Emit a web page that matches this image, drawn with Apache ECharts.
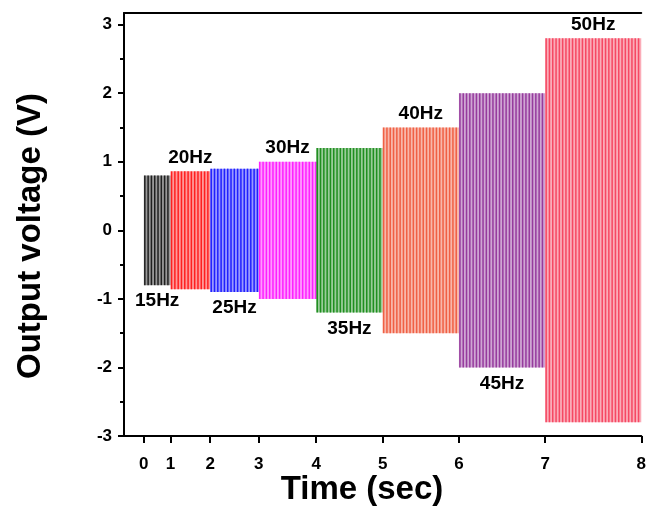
<!DOCTYPE html>
<html><head><meta charset="utf-8">
<script src="https://cdn.jsdelivr.net/npm/echarts@6/dist/echarts.min.js"></script>
<style>html,body{margin:0;padding:0;background:#fff}#c{width:649px;height:508px}</style>
</head><body><div id="c"></div>
<script>
// x-axis tick labels and their positions on the (non-uniform) time axis
const tickLabels = ['0','1','2','3','4','5','6','7','8'];
const tickValues = [0, 27, 67, 116, 174, 241, 318, 405, 502];
// one excitation frequency per time segment
const freqLabels = ['15Hz','20Hz','25Hz','30Hz','35Hz','40Hz','45Hz','50Hz'];
const amplitudes = [0.80, 0.86, 0.90, 1.00, 1.20, 1.50, 2.00, 2.80];
const colors = ['#000000','#ff0000','#0000ff','#ff00ff','#008000','#ee4a2a','#882090','#f5304e'];
const yTicks = [-3,-2,-1,0,1,2,3];
const yMinorTicks = [-2.5,-1.5,-0.5,0.5,1.5,2.5];

const FONT = '"Liberation Sans", Arial, sans-serif';
const segData = freqLabels.map((f,i)=>[tickValues[i], tickValues[i+1], amplitudes[i], i]);

function renderItem(params, api){
  const x0 = api.value(0), x1 = api.value(1), a = api.value(2), i = api.value(3);
  const p0 = api.coord([x0, a]), p1 = api.coord([x1, -a]);
  const col = colors[i];
  const children = [{type:'rect', shape:{x:p0[0], y:p0[1], width:p1[0]-p0[0], height:p1[1]-p0[1]},
    style:{fill:col, opacity:0.4}}];
  for (let x = p0[0] + 1; x < p1[0]; x += 3.3) {
    children.push({type:'line', shape:{x1:x, y1:p0[1], x2:x, y2:p1[1]},
      style:{stroke:col, lineWidth:1.5, opacity:0.8}});
  }
  const above = i % 2 === 1;
  children.push({type:'text', x:(p0[0]+p1[0])/2, y: above ? p0[1]-14 : p1[1]+16,
    style:{text:freqLabels[i], font:'bold 19px ' + FONT, fill:'#000',
      align:'center', verticalAlign:'middle', textAlign:'center', textVerticalAlign:'middle'}});
  return {type:'group', children};
}

const chart = echarts.init(document.getElementById('c'), null, {renderer:'canvas'});
const axisLine = {show:true, onZero:false, lineStyle:{color:'#000', width:2}};
chart.setOption({
  animation:false,
  grid:{left:124, right:3, top:13, bottom:72},
  xAxis:[{
    type:'value', position:'bottom', min:-20, max:502,
    axisLine, splitLine:{show:false},
    axisTick:{show:true, inside:false, length:7, lineStyle:{color:'#000', width:2}, customValues:tickValues},
    axisLabel:{show:true, customValues:tickValues, margin:20, color:'#000',
      fontWeight:'bold', fontSize:17, fontFamily:FONT,
      formatter:v => tickLabels[tickValues.indexOf(v)]}
  },{
    type:'value', position:'top', min:-20, max:502,
    axisLine, axisTick:{show:false}, axisLabel:{show:false}, splitLine:{show:false}
  }],
  yAxis:[{
    type:'value', position:'left', min:-3, max:3.17,
    axisLine, splitLine:{show:false},
    axisTick:{show:true, inside:false, length:6, lineStyle:{color:'#000', width:2}, customValues:yTicks},
    axisLabel:{show:true, customValues:yTicks, margin:12, color:'#000',
      fontWeight:'bold', fontSize:17, fontFamily:FONT}
  },{
    type:'value', position:'left', offset:0, min:-3, max:3.17,
    axisLine:{show:false, onZero:false}, splitLine:{show:false},
    axisTick:{show:true, inside:false, length:4, lineStyle:{color:'#000', width:2}, customValues:yMinorTicks},
    axisLabel:{show:false}
  }],
  series:[{
    type:'custom', xAxisIndex:0, yAxisIndex:0, data:segData, renderItem, clip:false
  }],
  graphic:[
    {type:'text', x:362, y:490, style:{text:'Time (sec)', font:'bold 33px ' + FONT, fill:'#000',
      align:'center', verticalAlign:'middle', textAlign:'center', textVerticalAlign:'middle'}},
    {type:'text', x:31, y:236, rotation:Math.PI/2, style:{text:'Output voltage (V)', font:'bold 33px ' + FONT, fill:'#000',
      align:'center', verticalAlign:'middle', textAlign:'center', textVerticalAlign:'middle'}}
  ]
});
</script></body></html>
